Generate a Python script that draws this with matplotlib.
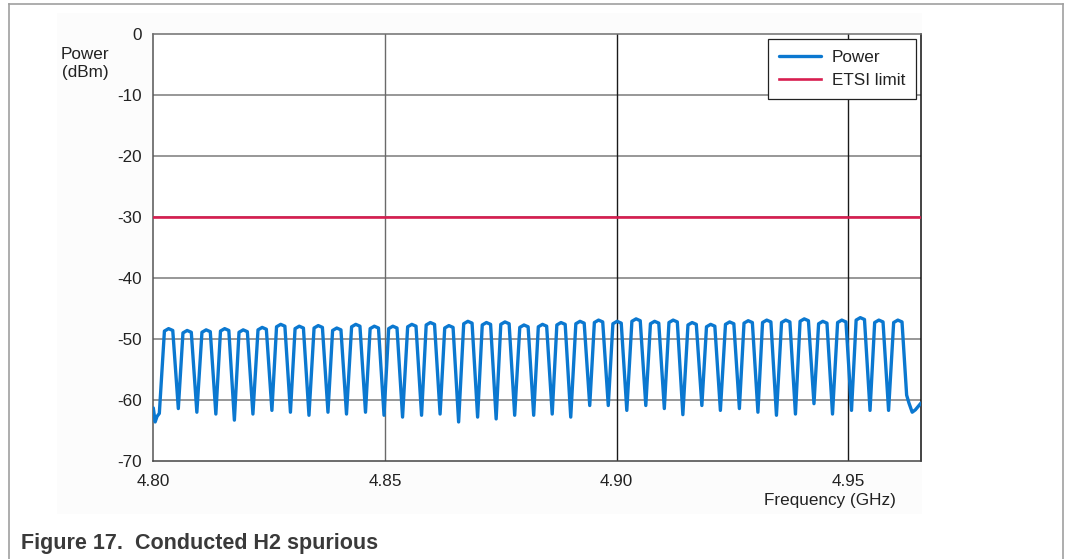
import matplotlib
matplotlib.use("Agg")
import matplotlib.pyplot as plt
from matplotlib.lines import Line2D
from matplotlib.patches import Rectangle

plt.rcParams['font.family'] = ['Liberation Sans', 'DejaVu Sans']

# ---------------- data ----------------
# traced Power curve: per cycle -> shoulder-left, top, shoulder-right, dip
freq_ghz = [
    4.8000, 4.8004, 4.8008, 4.8013,
    4.8024, 4.8033, 4.8042, 4.8054,
    4.8064, 4.8073, 4.8082, 4.8094,
    4.8105, 4.8114, 4.8123, 4.8135,
    4.8145, 4.8154, 4.8163, 4.8175,
    4.8185, 4.8194, 4.8203, 4.8215,
    4.8226, 4.8235, 4.8244, 4.8256,
    4.8266, 4.8275, 4.8284, 4.8296,
    4.8306, 4.8315, 4.8324, 4.8336,
    4.8347, 4.8356, 4.8365, 4.8377,
    4.8387, 4.8396, 4.8405, 4.8417,
    4.8428, 4.8437, 4.8446, 4.8458,
    4.8468, 4.8477, 4.8486, 4.8498,
    4.8508, 4.8517, 4.8526, 4.8538,
    4.8549, 4.8558, 4.8567, 4.8579,
    4.8589, 4.8598, 4.8607, 4.8619,
    4.8629, 4.8638, 4.8647, 4.8659,
    4.8670, 4.8679, 4.8688, 4.8700,
    4.8710, 4.8719, 4.8728, 4.8740,
    4.8750, 4.8759, 4.8768, 4.8780,
    4.8791, 4.8800, 4.8809, 4.8821,
    4.8831, 4.8840, 4.8849, 4.8861,
    4.8871, 4.8880, 4.8889, 4.8901,
    4.8912, 4.8921, 4.8930, 4.8942,
    4.8952, 4.8961, 4.8970, 4.8982,
    4.8992, 4.9001, 4.9010, 4.9022,
    4.9033, 4.9042, 4.9051, 4.9063,
    4.9073, 4.9082, 4.9091, 4.9103,
    4.9113, 4.9122, 4.9131, 4.9143,
    4.9154, 4.9163, 4.9172, 4.9184,
    4.9194, 4.9203, 4.9212, 4.9224,
    4.9235, 4.9244, 4.9253, 4.9265,
    4.9275, 4.9284, 4.9293, 4.9305,
    4.9315, 4.9324, 4.9333, 4.9345,
    4.9356, 4.9365, 4.9374, 4.9386,
    4.9396, 4.9405, 4.9414, 4.9426,
    4.9436, 4.9445, 4.9454, 4.9466,
    4.9477, 4.9486, 4.9495, 4.9507,
    4.9517, 4.9526, 4.9535, 4.9547,
    4.9557, 4.9566, 4.9575, 4.9587,
    4.9598, 4.9607, 4.9616,
    4.9626, 4.9631, 4.9638, 4.9645, 4.9657,
]
power_dbm = [
    -61.3, -63.6, -62.7, -62.2,
    -48.7, -48.3, -48.6, -61.4,
    -49.0, -48.6, -48.9, -62.0,
    -48.9, -48.5, -48.8, -62.3,
    -48.7, -48.3, -48.6, -63.3,
    -48.9, -48.5, -48.8, -62.3,
    -48.5, -48.1, -48.4, -61.7,
    -48.0, -47.6, -47.9, -62.0,
    -48.3, -47.9, -48.2, -62.5,
    -48.2, -47.8, -48.1, -62.0,
    -48.6, -48.2, -48.5, -62.3,
    -48.0, -47.6, -47.9, -62.0,
    -48.3, -47.9, -48.2, -62.5,
    -48.3, -47.9, -48.2, -62.8,
    -48.0, -47.6, -47.9, -62.5,
    -47.7, -47.3, -47.6, -62.3,
    -48.2, -47.8, -48.1, -63.6,
    -47.5, -47.1, -47.4, -62.8,
    -47.7, -47.3, -47.6, -63.1,
    -47.6, -47.2, -47.5, -62.5,
    -48.1, -47.7, -48.0, -62.5,
    -48.0, -47.6, -47.9, -62.3,
    -47.7, -47.3, -47.6, -62.8,
    -47.5, -47.1, -47.4, -60.9,
    -47.3, -46.9, -47.2, -60.9,
    -47.5, -47.1, -47.4, -61.7,
    -47.1, -46.7, -47.0, -60.9,
    -47.5, -47.1, -47.4, -61.4,
    -47.3, -46.9, -47.2, -62.4,
    -47.7, -47.3, -47.6, -60.9,
    -48.0, -47.6, -47.9, -61.7,
    -47.6, -47.2, -47.5, -61.4,
    -47.4, -47.0, -47.3, -62.0,
    -47.3, -46.9, -47.2, -62.5,
    -47.3, -46.9, -47.2, -62.3,
    -47.1, -46.7, -47.0, -60.6,
    -47.5, -47.1, -47.4, -62.3,
    -47.3, -46.9, -47.2, -61.7,
    -46.9, -46.5, -46.8, -61.7,
    -47.3, -46.9, -47.2, -61.7,
    -47.3, -46.9, -47.2,
    -59.2, -60.5, -62.0, -61.6, -60.5,
]
etsi_freq = [4.80, 4.9657]
etsi_limit_dbm = [-30.0, -30.0]

x_ticks = [4.80, 4.85, 4.90, 4.95]
x_ticklabels = ["4.80", "4.85", "4.90", "4.95"]
y_ticks = [0, -10, -20, -30, -40, -50, -60, -70]
y_ticklabels = ["0", "-10", "-20", "-30", "-40", "-50", "-60", "-70"]

# ---------------- figure ----------------
W, H = 1066, 559
FS = 12.3
fig = plt.figure(figsize=(W / 100, H / 100), dpi=100)
fig.patch.set_facecolor("white")

def fx(px):
    return px / W

def fy(py):
    return 1 - py / H

# faint background panel and outer frame
fig.add_artist(Rectangle((fx(57), fy(514)), fx(922) - fx(57), fy(13) - fy(514),
                         transform=fig.transFigure, facecolor="#fcfcfc",
                         edgecolor="none", zorder=0))
frame_c = "#a0a0a0"
fig.add_artist(Line2D([fx(9), fx(9)], [fy(4), 0], transform=fig.transFigure, color=frame_c, lw=1.2))
fig.add_artist(Line2D([fx(1063), fx(1063)], [fy(4), 0], transform=fig.transFigure, color=frame_c, lw=1.2))
fig.add_artist(Line2D([fx(9), fx(1063)], [fy(4), fy(4)], transform=fig.transFigure, color=frame_c, lw=1.2))

ax = fig.add_axes([fx(153.3), fy(461), fx(921) - fx(153.3), fy(34) - fy(461)])
ax.set_facecolor("white")

ax.set_xlim(4.80, 4.9657)
ax.set_ylim(-70, 0)

# grid lines
for yv in y_ticks[1:-1]:
    ax.axhline(yv, color="#7a7a7a", lw=1.1, zorder=1)
for xv in x_ticks[1:]:
    c = "#6a6a6a" if abs(xv - 4.85) < 1e-9 else "#1a1a1a"
    ax.axvline(xv, color=c, lw=1.0, zorder=1)

ax.plot(freq_ghz, power_dbm, color="#0b78d0", lw=2.4, solid_joinstyle="round",
        solid_capstyle="round", label="Power", zorder=3)
ax.plot(etsi_freq, etsi_limit_dbm, color="#d81e50", lw=1.9, label="ETSI limit", zorder=3)

ax.set_xticks(x_ticks)
ax.set_xticklabels(x_ticklabels)
ax.set_yticks(y_ticks)
ax.set_yticklabels(y_ticklabels)
ax.tick_params(axis="both", length=0, labelsize=FS, colors="#222222")
ax.tick_params(axis="x", pad=9)
ax.tick_params(axis="y", pad=8)

ax.spines["top"].set_color("#6f6f6f")
ax.spines["left"].set_color("#555555")
ax.spines["right"].set_color("#111111")
ax.spines["bottom"].set_color("#444444")
for s in ax.spines.values():
    s.set_linewidth(1.1)

leg = ax.legend(loc="upper right", bbox_to_anchor=(0.9935, 0.9883), borderaxespad=0,
                fontsize=FS, handlelength=2.45, handletextpad=0.6, labelspacing=0.45,
                borderpad=0.65, fancybox=False, framealpha=1, edgecolor="#222222")
leg.get_frame().set_linewidth(0.9)
for t in leg.get_texts():
    t.set_color("#222222")

fig.text(fx(85), fy(63.5), "Power\n(dBm)", ha="center", va="center",
         multialignment="center", fontsize=FS, color="#222222", linespacing=1.3)
fig.text(fx(829.5), fy(500), "Frequency (GHz)", ha="center", va="center",
         fontsize=FS, color="#222222")

fig.text(fx(21), fy(544), "Figure 17.  Conducted H2 spurious", ha="left", va="center",
         fontsize=15.5, fontweight="bold", color="#3a3a3a")

fig.savefig("out.png", dpi=100, facecolor="white")
